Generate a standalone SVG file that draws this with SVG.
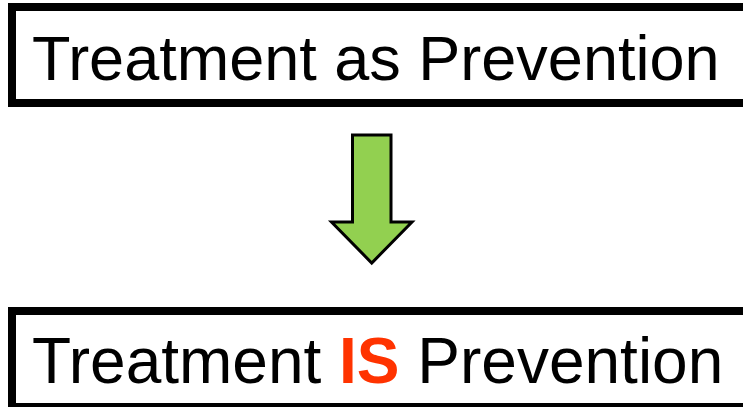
<svg xmlns="http://www.w3.org/2000/svg" width="743" height="407" viewBox="0 0 743 407">
<style>
.box{fill:#fff;stroke:#000;stroke-width:8}
.lbl{font-family:"Liberation Sans",Arial,sans-serif;font-size:64px;fill:#000}
.em{font-weight:bold;fill:#FF3300}
.arrow{fill:#92D050;stroke:#000;stroke-width:3;stroke-linejoin:miter}
</style>
<rect width="743" height="407" fill="#fff"/>
<g id="node-top">
<rect class="box" x="12" y="7" width="760" height="96"/>
<text class="lbl" x="32" y="80" style="font-size:63px">Treatment as Prevention</text>
</g>
<g id="connectors">
<path class="arrow" d="M352.5,135 H391 V222 H412 L371.75,263 L331.5,222 H352.5 Z"/>
</g>
<g id="node-bottom">
<rect class="box" x="12" y="311" width="760" height="96"/>
<text class="lbl" x="32" y="383">Treatment <tspan class="em">IS</tspan> Prevention</text>
</g>
</svg>
